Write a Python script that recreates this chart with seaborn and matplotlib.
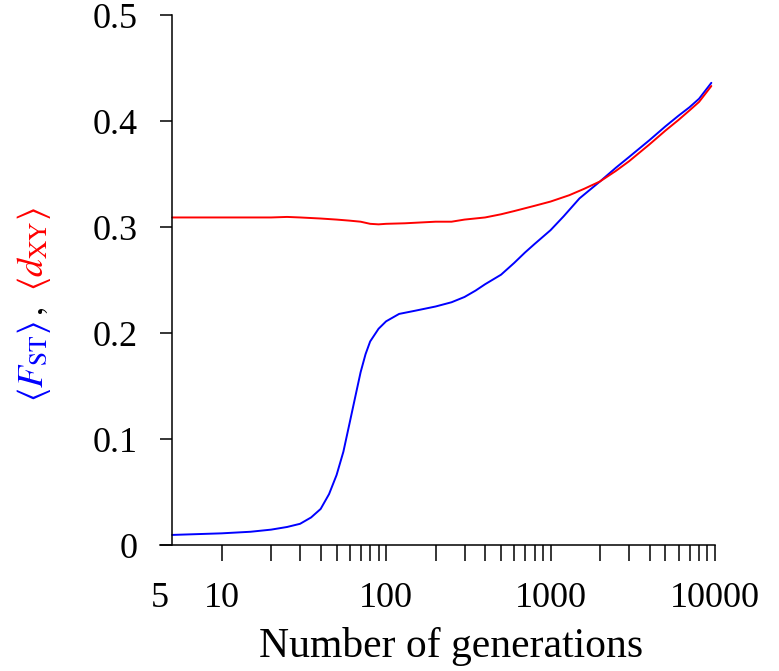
import numpy as np
import pandas as pd
import seaborn as sns
import matplotlib
matplotlib.use("Agg")
import matplotlib.pyplot as plt
from matplotlib.transforms import offset_copy

# average F_ST (blue)
gens_fst = [5, 10, 15, 20, 25, 30, 35, 40, 45, 50, 55, 60, 65, 70, 75, 80, 90,
            100, 120, 150, 200, 250, 300, 350, 400, 500, 600, 700, 800, 1000,
            1200, 1500, 2000, 2500, 3000, 4000, 5000, 6000, 7000, 8000, 9500]
fst = [0.0095, 0.011, 0.0125, 0.0145, 0.017, 0.020, 0.026, 0.034, 0.048, 0.066,
       0.088, 0.115, 0.140, 0.163, 0.180, 0.192, 0.204, 0.211, 0.218, 0.221,
       0.225, 0.229, 0.234, 0.240, 0.246, 0.255, 0.266, 0.276, 0.284, 0.297,
       0.310, 0.327, 0.343, 0.356, 0.366, 0.382, 0.395, 0.405, 0.413, 0.421,
       0.436]

# average d_XY (red)
gens_dxy = [5, 10, 20, 25, 30, 40, 50, 60, 70, 80, 90, 100, 130, 150, 200, 250,
            300, 400, 500, 600, 800, 1000, 1300, 1600, 2000, 2500, 3000, 4000,
            5000, 6000, 7000, 8000, 9500]
dxy = [0.309, 0.309, 0.309, 0.3095, 0.309, 0.308, 0.307, 0.306, 0.305, 0.303,
       0.3025, 0.303, 0.3035, 0.304, 0.305, 0.305, 0.307, 0.309, 0.312, 0.315,
       0.320, 0.324, 0.330, 0.336, 0.343, 0.353, 0.362, 0.378, 0.391, 0.401,
       0.410, 0.418, 0.433]

y_ticks = [0, 0.1, 0.2, 0.3, 0.4, 0.5]
y_ticklabels = ["0", "0.1", "0.2", "0.3", "0.4", "0.5"]
x_major = [10, 100, 1000, 10000]
x_major_labels = ["10", "100", "1000", "10000"]

df = pd.concat([
    pd.DataFrame({"gen": gens_fst, "val": fst, "stat": "fst"}),
    pd.DataFrame({"gen": gens_dxy, "val": dxy, "stat": "dxy"}),
])

sns.set_style("ticks")
plt.rcParams["font.family"] = ["Liberation Serif", "DejaVu Serif"]
plt.rcParams["mathtext.fontset"] = "stix"
plt.rcParams["text.color"] = "black"
plt.rcParams["xtick.color"] = "black"
plt.rcParams["ytick.color"] = "black"
plt.rcParams["axes.labelcolor"] = "black"
plt.rcParams["axes.edgecolor"] = "black"

fig = plt.figure(figsize=(7.79, 6.71), dpi=100)
ax = fig.add_axes([160 / 779, 1 - 545 / 671, (715 - 160) / 779, (545 - 15) / 671])

sns.lineplot(data=df, x="gen", y="val", hue="stat",
             palette={"fst": "#0000ff", "dxy": "#ff0000"},
             linewidth=1.4, legend=False, ax=ax, sort=True)

ax.set_xscale("log")
ax.set_xlim(4.22, 10000)
ax.set_ylim(0, 0.5)
ax.spines["left"].set_position(("data", 5))
ax.spines["right"].set_visible(False)
ax.spines["top"].set_visible(False)
for s in ["left", "bottom"]:
    ax.spines[s].set_linewidth(1.1)

ax.set_yticks(y_ticks, y_ticklabels)
ax.set_xticks(x_major, x_major_labels)
minor = [m * d for d in [10, 100, 1000] for m in range(2, 10)]
ax.set_xticks(minor, minor=True)
ax.xaxis.set_minor_formatter(plt.NullFormatter())

xlen, xpad = 11.5, 15
ax.tick_params(axis="x", which="both", length=xlen, width=1.1, pad=xpad,
               labelsize=26, direction="out")
ax.tick_params(axis="y", length=9, width=1.1, pad=16, labelsize=26)

# the "5" at the left end of the x axis has no tick mark
ax.text(4.22, 0, "5", fontsize=26, ha="center", va="top",
        transform=offset_copy(ax.get_xaxis_transform(), fig=fig,
                              y=-(xlen + xpad), units="points"))

ax.set_xlabel("Number of generations", fontsize=30)
ax.xaxis.set_label_coords((451 - 160) / 555, -0.155)
ax.set_ylabel("")

# coloured y label in three pieces, laid end to end (gap in px after each)
pieces = [(r"$\langle F_{\rm ST}\rangle$", "#0000ff", 5),
          (r"$,$", "black", 16),
          (r"$\langle d_{\rm XY}\rangle$", "#ff0000", 0)]
fig.canvas.draw()
renderer = fig.canvas.get_renderer()
x0 = 43 / 779
y_pos = 1 - 402 / 671
for txt, col, gap in pieces:
    t = fig.text(x0, y_pos, txt, color=col, fontsize=26, rotation=90,
                 rotation_mode="anchor", ha="left", va="baseline")
    bb = t.get_window_extent(renderer)
    y_pos += (bb.height + gap) / fig.bbox.height

fig.savefig("out.png", dpi=100)
